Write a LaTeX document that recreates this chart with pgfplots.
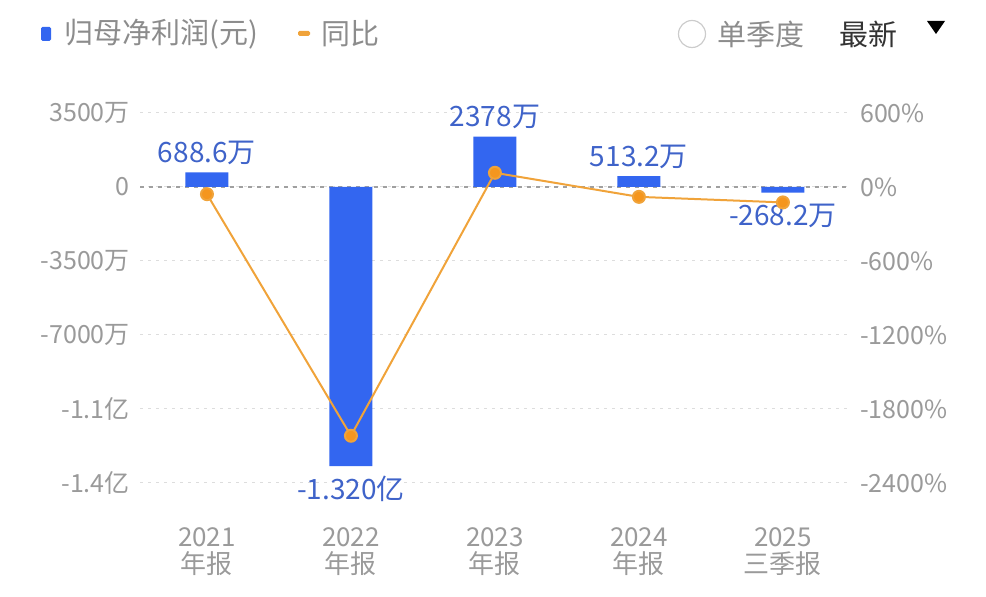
\documentclass[border=0pt]{standalone}
\usepackage{pgfplots}
\pgfplotsset{compat=1.18}
\usepackage{fontspec}
\setmainfont{Noto Sans CJK SC}
\definecolor{barblue}{HTML}{3366F0}
\definecolor{lblblue}{HTML}{3F63C9}
\definecolor{lineorange}{HTML}{F0A33A}
\definecolor{markorange}{HTML}{F5961E}
\definecolor{tickgray}{HTML}{9A9A9A}
\definecolor{gridgray}{HTML}{DDDDDD}
\definecolor{zerogray}{HTML}{A0A0A0}
\definecolor{legendgray}{HTML}{8C8C8C}
\definecolor{darktext}{HTML}{333333}
\definecolor{circlegray}{HTML}{CCCCCC}

\pgfplotsset{
  common/.style={
    at={(140pt,114pt)}, anchor=south west,
    scale only axis, width=707pt, height=370pt,
    xmin=-0.465, xmax=4.445,
    axis line style={draw=none},
    major tick length=0pt,
    tick style={draw=none},
    scaled y ticks=false,
    tick label style={text=tickgray, font=\fontsize{25}{27}\selectfont},
    clip=false,
  }
}

\begin{document}
\begin{tikzpicture}
\path[use as bounding box] (0pt,0pt) rectangle (986pt,597pt);

% header: legend and controls
\fill[barblue, rounded corners=1.5pt] (41pt,556pt) rectangle (51pt,570pt);
\node[anchor=west, inner sep=0pt, text=legendgray, font=\fontsize{29}{32}\selectfont] at (64pt,563pt) {归母净利润(元)};
\fill[lineorange, rounded corners=1.5pt] (298pt,561pt) rectangle (310pt,566pt);
\node[anchor=west, inner sep=0pt, text=legendgray, font=\fontsize{29}{32}\selectfont] at (321pt,563pt) {同比};
\draw[circlegray, line width=1.2pt] (692pt,563pt) circle (13.5pt);
\node[anchor=west, inner sep=0pt, text=legendgray, font=\fontsize{29}{32}\selectfont] at (717pt,563pt) {单季度};
\node[anchor=west, inner sep=0pt, text=darktext, font=\fontsize{29}{32}\selectfont] at (839pt,563pt) {最新};
\fill[black] (927pt,576pt) -- (945pt,576pt) -- (936pt,563pt) -- cycle;

% net profit bars (unit: 万元)
\begin{axis}[common,
  ymin=-14000, ymax=3500,
  ytick={-14000,-10500,-7000,-3500,0,3500},
  yticklabels={-1.4亿,-1.1亿,-7000万,-3500万,0,3500万},
  yticklabel style={anchor=east, inner sep=0pt, xshift=-10pt},
  ymajorgrids,
  grid style={gridgray, line width=1pt, dash pattern=on 3pt off 5pt},
  extra y ticks={0},
  extra y tick labels={},
  extra y tick style={grid style={zerogray, line width=1.2pt, dash pattern=on 4pt off 5pt}},
  xtick={0,1,2,3,4},
  xticklabels={{2021\\年报},{2022\\年报},{2023\\年报},{2024\\年报},{2025\\三季报}},
  xticklabel style={align=center, anchor=north, inner sep=0pt, yshift=-44pt,
    font=\fontsize{26}{27}\selectfont},
  ybar, bar width=43pt, bar shift=0pt,
  point meta=explicit symbolic,
  nodes near coords,
]
\addplot[fill=barblue, draw=none,
  nodes near coords style={anchor=base, inner sep=0pt, yshift=10pt, text=lblblue, font=\fontsize{28}{30}\selectfont}]
  table[meta=lbl] {
x y lbl
0 688.6 688.6万
2 2378 2378万
3 513.2 513.2万
};
\addplot[fill=barblue, draw=none,
  nodes near coords style={anchor=base, inner sep=0pt, yshift=-33pt, text=lblblue, font=\fontsize{28}{30}\selectfont}]
  table[meta=lbl] {
x y lbl
1 -13200 -1.320亿
4 -268.2 -268.2万
};
\end{axis}

% year-on-year change (%)
\begin{axis}[common,
  ymin=-2400, ymax=600,
  axis y line*=right,
  axis x line=none,
  ytick={-2400,-1800,-1200,-600,0,600},
  yticklabels={-2400\%,-1800\%,-1200\%,-600\%,0\%,600\%},
  yticklabel style={anchor=west, inner sep=0pt, xshift=13pt},
]
\addplot[lineorange, line width=2pt, mark=*, mark size=6pt,
  mark options={fill=markorange, draw=none}]
  coordinates {(0,-58) (1,-2017) (2,115) (3,-80) (4,-125)};
\end{axis}
\end{tikzpicture}
\end{document}
